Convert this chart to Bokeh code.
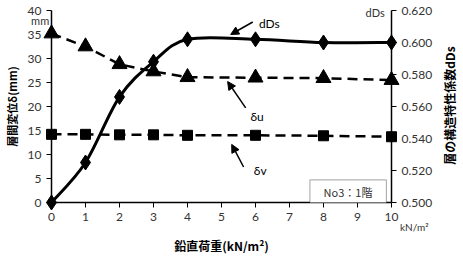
import math
from bokeh.plotting import figure
from bokeh.models import (Range1d, LinearAxis, FixedTicker, NumeralTickFormatter,
                          Label, Arrow, NormalHead, BoxAnnotation, ColumnDataSource)
from bokeh.core.properties import value
from bokeh.embed import file_html
from bokeh.resources import INLINE

# ---- data ----
load = [0, 1, 2, 3, 4, 6, 8, 10]
delta_u = [35.2, 32.5, 28.8, 27.3, 26.1, 26.0, 25.9, 25.5]
delta_v = [14.2, 14.2, 14.1, 14.1, 14.0, 14.0, 13.9, 13.7]
dds = [0.500, 0.525, 0.566, 0.588, 0.602, 0.602, 0.600, 0.600]
x_ticks = list(range(0, 11))
y_ticks = [0, 5, 10, 15, 20, 25, 30, 35, 40]
dds_ticks = [0.50, 0.52, 0.54, 0.56, 0.58, 0.60, 0.62]

JP = "Noto Sans CJK JP"
NUM = "Lato"
TXT = "#333333"

p = figure(width=463, height=256, output_backend="svg", toolbar_location=None,
           x_range=Range1d(0, 10), y_range=Range1d(0, 40),
           min_border_left=50, min_border_right=72, min_border_top=10,
           min_border_bottom=49)
p.outline_line_color = None
p.grid.grid_line_color = None
p.background_fill_color = "white"
p.border_fill_color = "white"

p.extra_y_ranges = {"dds": Range1d(0.5, 0.62)}
right = LinearAxis(y_range_name="dds")
p.add_layout(right, "right")

for ax in [p.xaxis[0], p.yaxis[0], right]:
    ax.axis_line_color = "black"
    ax.axis_line_width = 1.5
    ax.major_tick_line_color = "black"
    ax.major_tick_line_width = 1
    ax.major_tick_out = 5
    ax.major_tick_in = 0
    ax.minor_tick_line_color = None
    ax.major_label_text_font = NUM
    ax.major_label_text_font_size = "12px"
    ax.major_label_text_color = TXT
    ax.axis_label_text_font = JP
    ax.axis_label_text_font_style = "bold"
    ax.axis_label_text_color = "black"

p.xaxis[0].ticker = FixedTicker(ticks=x_ticks)
p.yaxis[0].ticker = FixedTicker(ticks=y_ticks)
right.ticker = FixedTicker(ticks=dds_ticks)
right.formatter = NumeralTickFormatter(format="0.000")

p.xaxis[0].axis_label = "鉛直荷重(kN/m²)"
p.xaxis[0].axis_label_text_font_size = "12px"
p.xaxis[0].axis_label_standoff = 13
p.yaxis[0].axis_label = "層間変位δ(mm)"
p.yaxis[0].axis_label_text_font_size = "11px"
p.yaxis[0].axis_label_standoff = 5

# ---- series ----
src = ColumnDataSource(dict(x=load, du=delta_u, dv=delta_v, dds=dds))

rs = []
rs.append(p.line("x", "du", source=src, line_color="black", line_width=2.5, line_dash="10 6"))
rs.append(p.scatter("x", "du", source=src, marker="triangle", size=15, fill_color="black",
                    line_color="black"))
rs.append(p.line("x", "dv", source=src, line_color="black", line_width=2.5, line_dash="10 6"))
rs.append(p.scatter("x", "dv", source=src, marker="square", size=10, fill_color="black",
                    line_color="black"))

# smoothed line through dDs points (Catmull-Rom -> cubic Bezier)
n = len(load)
x0, y0, x1, y1, cx0, cy0, cx1, cy1 = [], [], [], [], [], [], [], []
for i in range(n - 1):
    pa = (load[max(i - 1, 0)], dds[max(i - 1, 0)])
    pb = (load[i], dds[i])
    pc = (load[i + 1], dds[i + 1])
    pd = (load[min(i + 2, n - 1)], dds[min(i + 2, n - 1)])
    x0.append(pb[0]); y0.append(pb[1]); x1.append(pc[0]); y1.append(pc[1])
    cx0.append(pb[0] + (pc[0] - pa[0]) / 6); cy0.append(pb[1] + (pc[1] - pa[1]) / 6)
    cx1.append(pc[0] - (pd[0] - pb[0]) / 6); cy1.append(pc[1] - (pd[1] - pb[1]) / 6)
rs.append(p.bezier(x0=x0, y0=y0, x1=x1, y1=y1, cx0=cx0, cy0=cy0, cx1=cx1, cy1=cy1,
                   line_color="black", line_width=3, y_range_name="dds"))
rs.append(p.scatter("x", "dds", source=src, marker="diamond", size=15, fill_color="black",
                    line_color="black", y_range_name="dds"))

# ---- annotations ----
def lab(x, y, text, size="11px", align="left", font=JP, base="middle", color="black", **kw):
    l = Label(x=x, y=y, text=text, text_font=font, text_font_size=size,
              text_align=align, text_baseline=base, text_color=color, level="overlay", **kw)
    p.add_layout(l)
    return l

def txt(x, y, text, size="11px", align="left", font=NUM, color=TXT, angle=0.0,
        style="normal"):
    r = p.text(x=[x], y=[y], text=[text], text_font=value(font), text_font_size=size,
               text_align=align, text_baseline="middle", text_color=color, angle=angle,
               text_font_style=style)
    rs.append(r)

lab(6.1, 37.2, "dDs", font=NUM, size="12px")
lab(5.85, 18.0, "δu", font=NUM, size="12px")
lab(5.95, 6.7, "δv", font=NUM, size="12px")
for (xs, ys, xe, ye) in [(5.92, 37.6, 5.27, 35.0), (5.71, 19.7, 5.18, 25.2),
                         (5.65, 7.4, 5.30, 12.1)]:
    p.add_layout(Arrow(x_start=xs, y_start=ys, x_end=xe, y_end=ye, line_width=1.5,
                       line_color="black",
                       end=NormalHead(size=8, fill_color="black", line_color="black")))

# texts outside the frame
txt(-0.6, 38.0, "mm")
txt(9.8, 39.6, "dDs", align="right")
txt(10.25, -5.0, "kN/m²", size="10px")
txt(11.72, 20.2, "層の構造特性係数dDs", size="12px", align="center", font=JP,
    color="black", angle=math.pi / 2, style="bold")

p.add_layout(BoxAnnotation(left=7.6, right=9.85, bottom=-0.1, top=4.7,
                           fill_color="white", fill_alpha=1, line_color="black",
                           line_width=1.2))
lab(8.72, 2.2, "No3：1階", size="11px", align="center", color=TXT)

for r in rs:
    r.level = "overlay"

open("out.html", "w").write(file_html(p, INLINE))
